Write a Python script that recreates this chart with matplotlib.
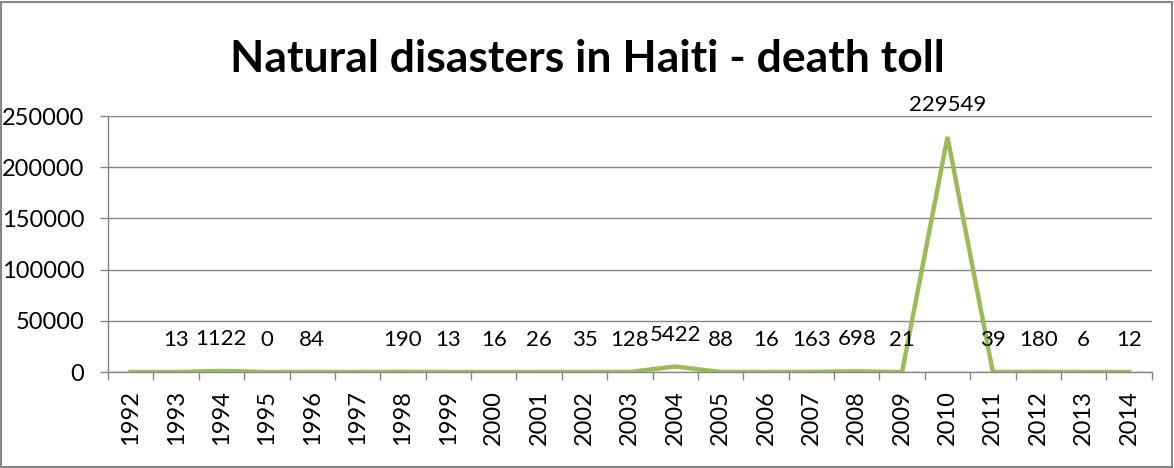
import matplotlib.pyplot as plt
from matplotlib.patches import Rectangle
from matplotlib.ticker import MultipleLocator, FixedLocator

# Death toll per year (None = no figure recorded, plotted as zero)
years = ["1992", "1993", "1994", "1995", "1996", "1997", "1998", "1999",
         "2000", "2001", "2002", "2003", "2004", "2005", "2006", "2007",
         "2008", "2009", "2010", "2011", "2012", "2013", "2014"]
deaths = [None, 13, 1122, 0, 84, None, 190, 13,
          16, 26, 35, 128, 5422, 88, 16, 163,
          698, 21, 229549, 39, 180, 6, 12]

plt.rcParams["font.family"] = ["Lato", "DejaVu Sans"]

GREY = "#868686"
GREEN = "#9BBB59"

fig = plt.figure(figsize=(11.74, 4.68), dpi=100)
ax = fig.add_axes([0.092, 0.205, 0.889, 0.547])

x = list(range(len(years)))
y = [v if v is not None else 0 for v in deaths]
ax.plot(x, y, color=GREEN, lw=3.2, solid_joinstyle="miter", zorder=3)

# value labels above each recorded point
for xi, v in zip(x, deaths):
    if v is None:
        continue
    ax.annotate(str(v), (xi, v), xytext=(0, 23), textcoords="offset points",
                ha="center", va="center", fontsize=16, color="black")

ax.set_xlim(-0.5, len(years) - 0.5)
ax.set_ylim(0, 250000)
ax.yaxis.set_major_locator(MultipleLocator(50000))
ax.grid(axis="y", color=GREY, lw=1)
ax.set_axisbelow(True)

ax.set_xticks(x)
ax.set_xticklabels(years, rotation=90)
ax.xaxis.set_minor_locator(FixedLocator([i - 0.5 for i in range(len(years) + 1)]))
ax.tick_params(axis="x", which="major", length=0, pad=13, labelsize=17)
ax.tick_params(axis="x", which="minor", length=6, color=GREY, width=1)
ax.tick_params(axis="y", length=6, color=GREY, width=1, labelsize=17, pad=11)

for side in ("top", "right"):
    ax.spines[side].set_visible(False)
for side in ("left", "bottom"):
    ax.spines[side].set_color(GREY)
    ax.spines[side].set_linewidth(1)

fig.text(0.5, 0.875, "Natural disasters in Haiti - death toll",
         ha="center", va="center", fontsize=32, fontweight="bold")

fig.add_artist(Rectangle((1 / 1174, 1 / 468), 1171 / 1174, 465 / 468,
                         transform=fig.transFigure, fill=False,
                         edgecolor=GREY, lw=1.5))

fig.savefig("out.png", dpi=100)
